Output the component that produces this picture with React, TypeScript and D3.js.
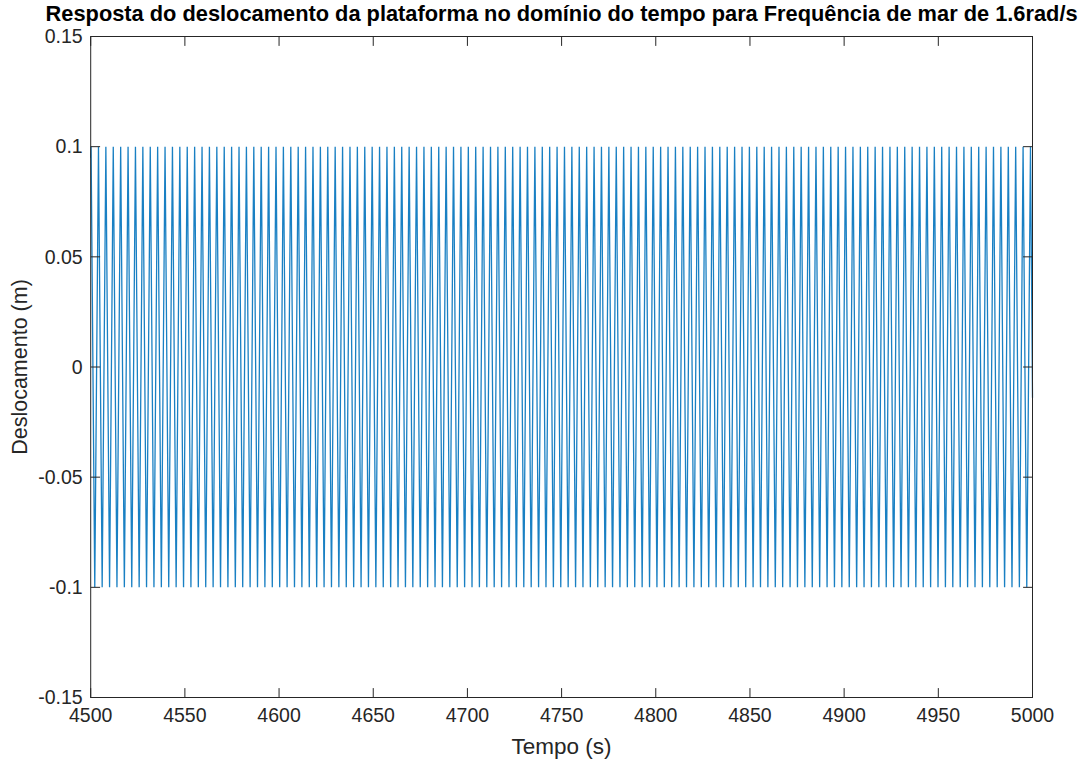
import React from 'react';
import * as d3 from 'd3';

// Turning points of the displacement record (s)
const crestTimes = [
  4500.20, 4504.13, 4508.05, 4511.98, 4515.91, 4519.84, 4523.76, 4527.69, 4531.62, 4535.54,
  4539.47, 4543.40, 4547.32, 4551.25, 4555.18, 4559.11, 4563.03, 4566.96, 4570.89, 4574.81,
  4578.74, 4582.67, 4586.59, 4590.52, 4594.45, 4598.38, 4602.30, 4606.23, 4610.16, 4614.08,
  4618.01, 4621.94, 4625.86, 4629.79, 4633.72, 4637.65, 4641.57, 4645.50, 4649.43, 4653.35,
  4657.28, 4661.21, 4665.13, 4669.06, 4672.99, 4676.92, 4680.84, 4684.77, 4688.70, 4692.62,
  4696.55, 4700.48, 4704.40, 4708.33, 4712.26, 4716.18, 4720.11, 4724.04, 4727.97, 4731.89,
  4735.82, 4739.75, 4743.67, 4747.60, 4751.53, 4755.45, 4759.38, 4763.31, 4767.24, 4771.16,
  4775.09, 4779.02, 4782.94, 4786.87, 4790.80, 4794.72, 4798.65, 4802.58, 4806.51, 4810.43,
  4814.36, 4818.29, 4822.21, 4826.14, 4830.07, 4833.99, 4837.92, 4841.85, 4845.78, 4849.70,
  4853.63, 4857.56, 4861.48, 4865.41, 4869.34, 4873.26, 4877.19, 4881.12, 4885.05, 4888.97,
  4892.90, 4896.83, 4900.75, 4904.68, 4908.61, 4912.53, 4916.46, 4920.39, 4924.32, 4928.24,
  4932.17, 4936.10, 4940.02, 4943.95, 4947.88, 4951.80, 4955.73, 4959.66, 4963.59, 4967.51,
  4971.44, 4975.37, 4979.29, 4983.22, 4987.15, 4991.07, 4995.00, 4998.93,
];
const troughTimes = [
  4502.16, 4506.09, 4510.02, 4513.94, 4517.87, 4521.80, 4525.73, 4529.65, 4533.58, 4537.51,
  4541.43, 4545.36, 4549.29, 4553.21, 4557.14, 4561.07, 4565.00, 4568.92, 4572.85, 4576.78,
  4580.70, 4584.63, 4588.56, 4592.48, 4596.41, 4600.34, 4604.27, 4608.19, 4612.12, 4616.05,
  4619.97, 4623.90, 4627.83, 4631.75, 4635.68, 4639.61, 4643.54, 4647.46, 4651.39, 4655.32,
  4659.24, 4663.17, 4667.10, 4671.02, 4674.95, 4678.88, 4682.81, 4686.73, 4690.66, 4694.59,
  4698.51, 4702.44, 4706.37, 4710.29, 4714.22, 4718.15, 4722.07, 4726.00, 4729.93, 4733.86,
  4737.78, 4741.71, 4745.64, 4749.56, 4753.49, 4757.42, 4761.34, 4765.27, 4769.20, 4773.13,
  4777.05, 4780.98, 4784.91, 4788.83, 4792.76, 4796.69, 4800.61, 4804.54, 4808.47, 4812.40,
  4816.32, 4820.25, 4824.18, 4828.10, 4832.03, 4835.96, 4839.88, 4843.81, 4847.74, 4851.67,
  4855.59, 4859.52, 4863.45, 4867.37, 4871.30, 4875.23, 4879.15, 4883.08, 4887.01, 4890.94,
  4894.86, 4898.79, 4902.72, 4906.64, 4910.57, 4914.50, 4918.42, 4922.35, 4926.28, 4930.21,
  4934.13, 4938.06, 4941.99, 4945.91, 4949.84, 4953.77, 4957.69, 4961.62, 4965.55, 4969.48,
  4973.40, 4977.33, 4981.26, 4985.18, 4989.11, 4993.04, 4996.96,
];
const crestValue = 0.1;
const troughValue = -0.1;
const startPoint = { t: 4500, y: 0.095 };
const endPoint = { t: 5000, y: -0.014 };

const xDomain = [4500, 5000];
const yDomain = [-0.15, 0.15];
const xTicks = [4500, 4550, 4600, 4650, 4700, 4750, 4800, 4850, 4900, 4950, 5000];
const yTicks = [-0.15, -0.1, -0.05, 0, 0.05, 0.1, 0.15];
const yTickLabels = ['-0.15', '-0.1', '-0.05', '0', '0.05', '0.1', '0.15'];

const titleText = 'Resposta do deslocamento da plataforma no domínio do tempo para Frequência de mar de 1.6rad/s';
const xLabelText = 'Tempo (s)';
const yLabelText = 'Deslocamento (m)';

const W = 1089;
const H = 765;
const L = 90.7;
const R = 1032.5;
const T = 36.5;
const B = 697.5;
const AX = '#262626';
const FONT = '"Liberation Sans", Arial, Helvetica, sans-serif';

export default function App() {
  const x = d3.scaleLinear().domain(xDomain).range([L, R]);
  const y = d3.scaleLinear().domain(yDomain).range([B, T]);

  const pts: { t: number; v: number }[] = [{ t: startPoint.t, v: startPoint.y }];
  crestTimes.forEach((c, i) => {
    pts.push({ t: c, v: crestValue });
    if (i < troughTimes.length) pts.push({ t: troughTimes[i], v: troughValue });
  });
  pts.push({ t: endPoint.t, v: endPoint.y });

  const line = d3
    .line<{ t: number; v: number }>()
    .x((d) => x(d.t))
    .y((d) => y(d.v));

  const tickLen = 9.4;

  return (
    <svg
      width={W}
      height={H}
      style={{ position: 'absolute', left: 0, top: 0, background: '#fff' }}
      fontFamily={FONT}
    >
      <rect x={0} y={0} width={W} height={H} fill="#fff" />
      <path d={line(pts) || ''} fill="none" stroke="#0072BD" strokeWidth={1.3} strokeOpacity={0.9} />
      {/* box */}
      <rect x={L} y={T} width={R - L} height={B - T} fill="none" stroke={AX} strokeWidth={1} />
      {/* x ticks */}
      {xTicks.map((t) => (
        <g key={'x' + t}>
          <line x1={x(t)} x2={x(t)} y1={B} y2={B - tickLen} stroke={AX} strokeWidth={1} />
          <line x1={x(t)} x2={x(t)} y1={T} y2={T + tickLen} stroke={AX} strokeWidth={1} />
          <text x={x(t)} y={722} textAnchor="middle" fontSize={19.5} fill={AX}>
            {t}
          </text>
        </g>
      ))}
      {yTicks.map((v, i) => (
        <g key={'y' + v}>
          <line x1={L} x2={L + tickLen} y1={y(v)} y2={y(v)} stroke={AX} strokeWidth={1} />
          <line x1={R} x2={R - tickLen} y1={y(v)} y2={y(v)} stroke={AX} strokeWidth={1} />
          <text x={L - 8} y={y(v)} dy="0.35em" textAnchor="end" fontSize={19.5} fill={AX}>
            {yTickLabels[i]}
          </text>
        </g>
      ))}
      <text x={(L + R) / 2} y={21} textAnchor="middle" fontSize={21.8} fontWeight="bold" fill="#000">
        {titleText}
      </text>
      <text x={(L + R) / 2} y={754} textAnchor="middle" fontSize={22.5} fill={AX}>
        {xLabelText}
      </text>
      <text
        transform={`translate(27, ${(T + B) / 2}) rotate(-90)`}
        textAnchor="middle"
        fontSize={21.5}
        fill={AX}
      >
        {yLabelText}
      </text>
    </svg>
  );
}
